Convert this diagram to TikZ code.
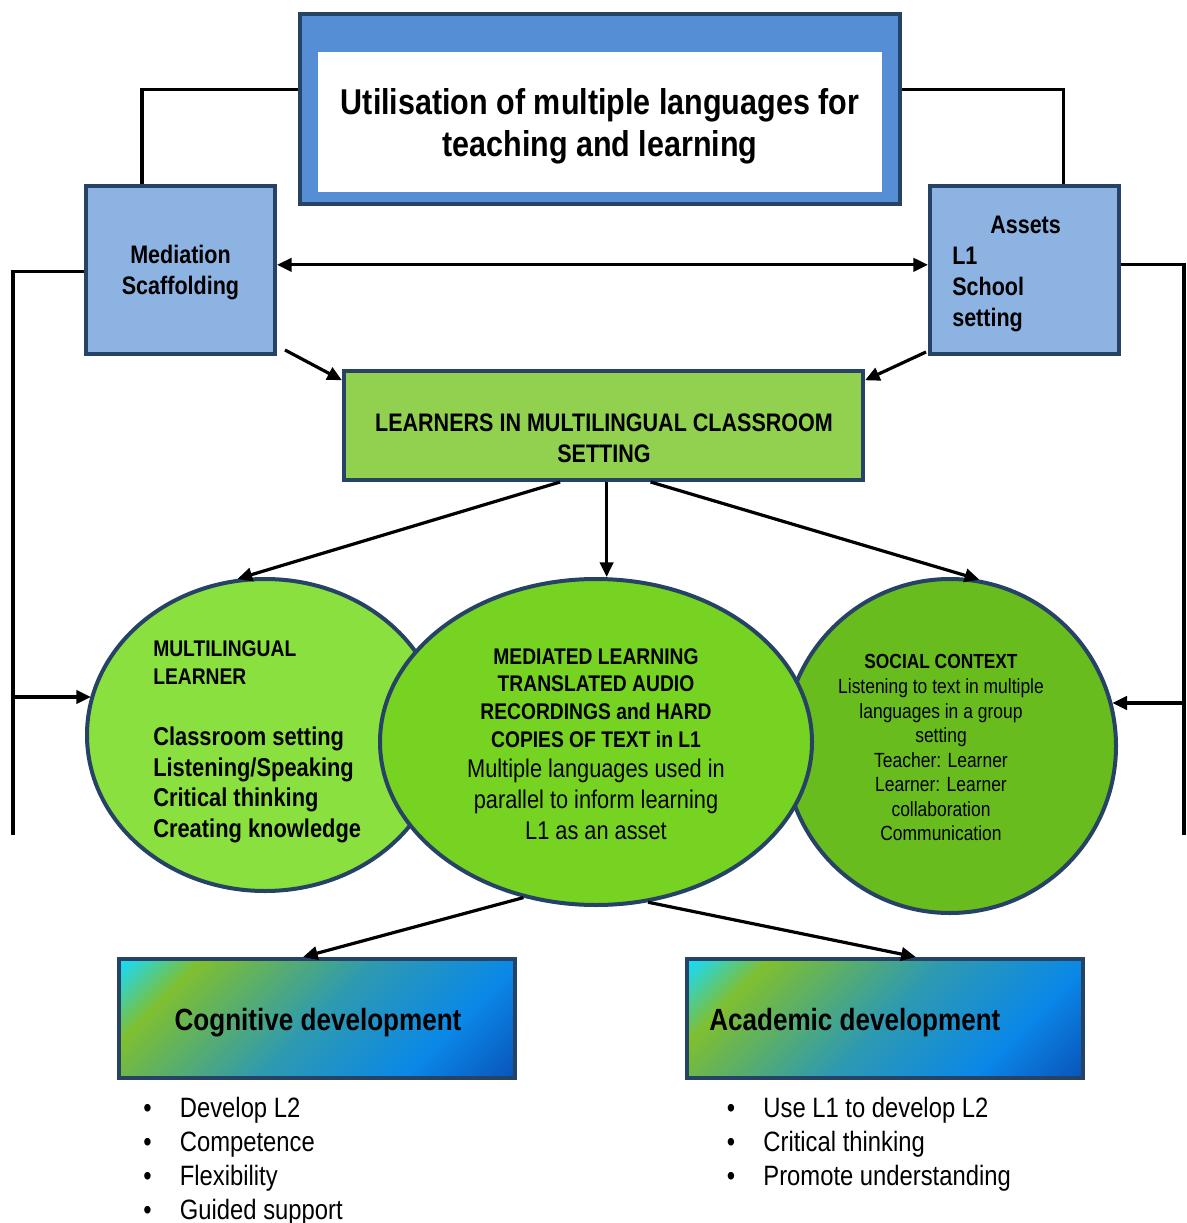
\documentclass[tikz,border=0pt]{standalone}
\usepackage{fontspec}
\setmainfont{Liberation Sans}[FakeStretch=0.85]
\usetikzlibrary{shapes.geometric,arrows.meta,calc}
\definecolor{navy}{HTML}{264264}
\definecolor{topblue}{HTML}{558ED5}
\definecolor{sideblue}{HTML}{8DB3E2}
\definecolor{boxgreen}{HTML}{92D050}
\definecolor{ovalA}{HTML}{8AE03E}
\definecolor{ovalB}{HTML}{77D321}
\definecolor{ovalC}{HTML}{69BC1E}
\definecolor{gcyan}{HTML}{21D8EA}
\definecolor{ggreen}{HTML}{7FBF30}
\definecolor{gteal}{HTML}{2E9AB0}
\definecolor{gblue}{HTML}{0A88E8}
\definecolor{gdark}{HTML}{0A55BB}
\pgfdeclarehorizontalshading{devshade}{100bp}{color(0bp)=(gcyan); color(16bp)=(gcyan); color(26bp)=(ggreen); color(50bp)=(gteal); color(70bp)=(gblue); color(85bp)=(gdark); color(100bp)=(gdark)}
\begin{document}
\begin{tikzpicture}[x=0.75pt,y=-0.75pt,
  box/.style={rectangle, draw=navy, line width=3pt, inner sep=0pt},
  oval/.style={ellipse, draw=navy, line width=3pt, inner sep=0pt},
  conn/.style={line width=2.4pt, draw=black},
  arr/.style={conn, -{Triangle[length=11pt,width=10pt]}},
  txt/.style={inner sep=0pt, text=black},
  devbox/.style={box, shade, shading=devshade, shading angle=-45, minimum width=297pt, minimum height=89.25pt}
]
\useasboundingbox (0,0) rectangle (1186,1223);

% top box
\node[box, fill=topblue, minimum width=450pt, minimum height=142.5pt] (top) at (600,109) {};
\node[fill=white, inner sep=0pt, minimum width=423pt, minimum height=105pt] (topin) at (600,122) {};
\node[txt, align=center, font=\fontsize{26.9pt}{31.5pt}\selectfont\bfseries] (ttl) at (600,126)
      {Utilisation of multiple languages for\\teaching and learning};

% side boxes
\node[box, fill=sideblue, minimum width=141.75pt, minimum height=126pt] (med) at (180.5,270) {};
\node[txt, align=center, font=\fontsize{19pt}{23.25pt}\selectfont\bfseries] (medtxt) at (180.5,273) {Mediation\\Scaffolding};
\node[box, fill=sideblue, minimum width=141.75pt, minimum height=126pt] (ast) at (1024.5,270) {};
\node[txt, anchor=west, align=left, font=\fontsize{19pt}{23.25pt}\selectfont\bfseries] (asttxt) at (952,274)
      {\hspace*{28.5pt}Assets\\L1\\School\\setting};

% green box
\node[box, fill=boxgreen, minimum width=389.25pt, minimum height=81.75pt] (grn) at (603.5,425.5) {};
\node[txt, align=center, font=\fontsize{19pt}{23.25pt}\selectfont\bfseries] (grntxt) at (604,438)
      {LEARNERS IN MULTILINGUAL CLASSROOM\\SETTING};

% ovals
\node[oval, fill=ovalA, minimum width=267pt, minimum height=234pt] (lc) at (265,735) {};
\node[oval, fill=ovalC, minimum width=249pt, minimum height=250.5pt] (rc) at (950,746) {};
\node[oval, fill=ovalB, minimum width=324pt, minimum height=244.5pt] (mc) at (596,742) {};

\node[txt, anchor=west, align=left, font=\fontsize{17pt}{21pt}\selectfont\bfseries] (lchead) at (153,663)
      {MULTILINGUAL\\LEARNER};
\node[txt, anchor=west, align=left, font=\fontsize{19.3pt}{22.9pt}\selectfont\bfseries] (lclist) at (153,785)
      {Classroom setting\\Listening/Speaking\\Critical thinking\\Creating knowledge};

\node[txt, align=center, font=\fontsize{17pt}{20.8pt}\selectfont\bfseries] (mchead) at (596,698)
      {MEDIATED LEARNING\\TRANSLATED AUDIO\\RECORDINGS and HARD\\COPIES OF TEXT in L1};
\node[txt, align=center, font=\fontsize{19.2pt}{23.25pt}\selectfont] (mclist) at (596,799)
      {Multiple languages used in\\parallel to inform learning\\L1 as an asset};

\node[txt, align=center, font=\fontsize{15.3pt}{18.4pt}\selectfont\bfseries] (rchead) at (941,661)
      {SOCIAL CONTEXT};
\node[txt, align=center, font=\fontsize{15.4pt}{18.4pt}\selectfont] (rclist) at (941,760)
      {Listening to text in multiple\\languages in a group\\setting\\Teacher: Learner\\Learner: Learner\\collaboration\\Communication};

% bottom boxes
\node[devbox] (cog) at (317,1018.5) {};
\node[txt, font=\fontsize{23pt}{27pt}\selectfont\bfseries] (cogtxt) at (318,1023) {Cognitive development};
\node[devbox] (acad) at (885,1018.5) {};
\node[txt, anchor=west, font=\fontsize{23pt}{27pt}\selectfont\bfseries] (acadtxt) at (709,1023) {Academic development};

\node[txt, anchor=west, align=left, font=\fontsize{21pt}{25.5pt}\selectfont] (cogl) at (143,1161)
      {\makebox[27.5pt][l]{•}Develop L2\\\makebox[27.5pt][l]{•}Competence\\\makebox[27.5pt][l]{•}Flexibility\\\makebox[27.5pt][l]{•}Guided support};
\node[txt, anchor=west, align=left, font=\fontsize{21pt}{25.5pt}\selectfont] (acadl) at (726.5,1144)
      {\makebox[27.5pt][l]{•}Use L1 to develop L2\\\makebox[27.5pt][l]{•}Critical thinking\\\makebox[27.5pt][l]{•}Promote understanding};

% connectors
\draw[conn] ($(top.north west)!0.4!(top.south west)$) -| ($(med.north west)!0.3!(med.north east)$);
\draw[conn] ($(top.north east)!0.4!(top.south east)$) -| ($(ast.north west)!0.7!(ast.north east)$);
\draw[conn, {Triangle[length=11pt,width=10pt]}-{Triangle[length=11pt,width=10pt]}]
  ($(med.north east)!0.47!(med.south east)$) -- ($(ast.north west)!0.47!(ast.south west)$);

\coordinate (lend) at (13,835);
\coordinate (lbr) at (13,697);
\coordinate (rend) at (1184,835);
\coordinate (rbr) at (1184,703);
\draw[conn] ($(med.north west)!0.51!(med.south west)$) -| (lend);
\draw[arr] (lbr) -- (lbr -| lc.167);
\draw[conn] ($(ast.north east)!0.47!(ast.south east)$) -| (rend);
\draw[arr] (rbr) -- (rbr -| rc.15);

\draw[arr] ($(med.south east)+(8,-6)$) -- ($(grn.north west)!0.1!(grn.south west)$);
\draw[arr] ($(ast.south west)+(-2,-4)$) -- ($(grn.north east)!0.1!(grn.south east)$);

\draw[arr] ($(grn.south west)!0.417!(grn.south east)$) -- (lc.100);
\draw[arr] ($(grn.south west)!0.506!(grn.south east)$) coordinate (gm) -- (gm |- mc.north);
\draw[arr] ($(grn.south west)!0.59!(grn.south east)$) -- (rc.80);

\draw[arr] (mc.245) -- ($(cog.north west)!0.465!(cog.north east)$);
\draw[arr] (mc.288) -- ($(acad.north west)!0.577!(acad.north east)$);
\end{tikzpicture}
\end{document}
